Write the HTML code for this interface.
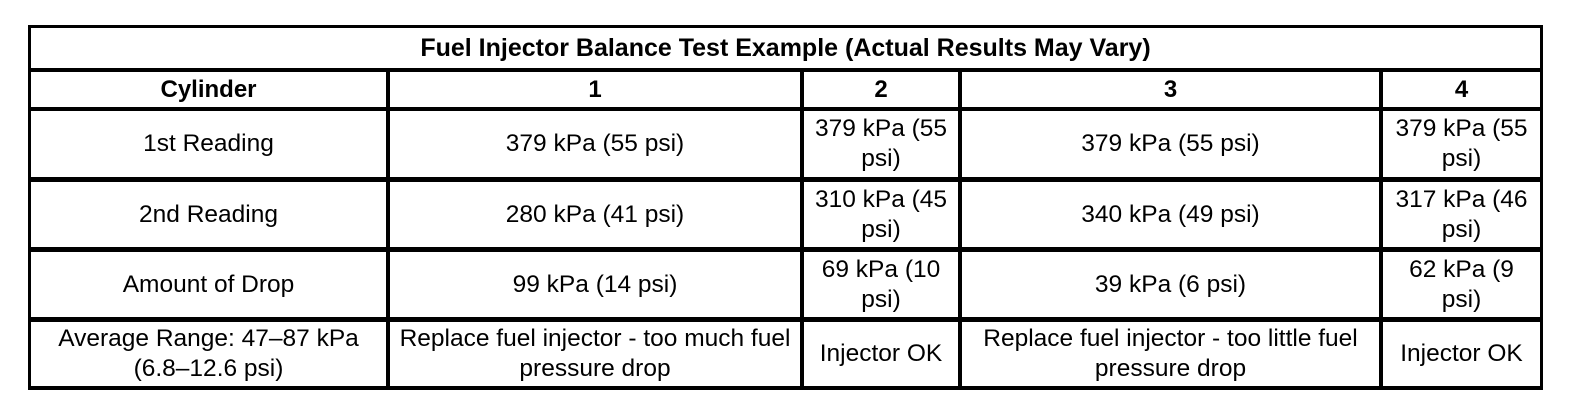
<!DOCTYPE html>
<html><head><style>
body{margin:0;width:1584px;height:410px;background:#fff;position:relative;overflow:hidden;font-family:"Liberation Sans",Arial,sans-serif;color:#000}
.l{position:absolute;background:#000}
.c{position:absolute;display:flex;align-items:center;justify-content:center;text-align:center;font-size:24.5px;line-height:30px}
.b{font-weight:bold;font-size:24px}
</style></head><body>
<div class="l" style="left:28px;top:25px;width:1515px;height:3px"></div>
<div class="l" style="left:28px;top:68px;width:1515px;height:4px"></div>
<div class="l" style="left:28px;top:107px;width:1515px;height:4px"></div>
<div class="l" style="left:28px;top:177px;width:1515px;height:5px"></div>
<div class="l" style="left:28px;top:247px;width:1515px;height:5px"></div>
<div class="l" style="left:28px;top:317px;width:1515px;height:5px"></div>
<div class="l" style="left:28px;top:386px;width:1515px;height:4px"></div>
<div class="l" style="left:28px;top:25px;width:3px;height:365px"></div>
<div class="l" style="left:1540px;top:25px;width:3px;height:365px"></div>
<div class="l" style="left:386px;top:68px;width:4px;height:322px"></div>
<div class="l" style="left:800px;top:68px;width:4px;height:322px"></div>
<div class="l" style="left:958px;top:68px;width:4px;height:322px"></div>
<div class="l" style="left:1379px;top:68px;width:4px;height:322px"></div>

<div class="c b" style="left:31px;top:28px;width:1509px;height:40px;font-size:25px">Fuel Injector Balance Test Example (Actual Results May Vary)</div>

<div class="c b" style="left:31px;top:72px;width:355px;height:35px">Cylinder</div>
<div class="c b" style="left:390px;top:72px;width:410px;height:35px">1</div>
<div class="c b" style="left:804px;top:72px;width:154px;height:35px">2</div>
<div class="c b" style="left:962px;top:72px;width:417px;height:35px">3</div>
<div class="c b" style="left:1383px;top:72px;width:157px;height:35px">4</div>

<div class="c" style="left:31px;top:111px;width:355px;height:66px">1st Reading</div>
<div class="c" style="left:390px;top:111px;width:410px;height:66px">379 kPa (55 psi)</div>
<div class="c" style="left:804px;top:111px;width:154px;height:66px">379 kPa (55<br>psi)</div>
<div class="c" style="left:962px;top:111px;width:417px;height:66px">379 kPa (55 psi)</div>
<div class="c" style="left:1383px;top:111px;width:157px;height:66px">379 kPa (55<br>psi)</div>

<div class="c" style="left:31px;top:182px;width:355px;height:65px">2nd Reading</div>
<div class="c" style="left:390px;top:182px;width:410px;height:65px">280 kPa (41 psi)</div>
<div class="c" style="left:804px;top:182px;width:154px;height:65px">310 kPa (45<br>psi)</div>
<div class="c" style="left:962px;top:182px;width:417px;height:65px">340 kPa (49 psi)</div>
<div class="c" style="left:1383px;top:182px;width:157px;height:65px">317 kPa (46<br>psi)</div>

<div class="c" style="left:31px;top:252px;width:355px;height:65px">Amount of Drop</div>
<div class="c" style="left:390px;top:252px;width:410px;height:65px">99 kPa (14 psi)</div>
<div class="c" style="left:804px;top:252px;width:154px;height:65px">69 kPa (10<br>psi)</div>
<div class="c" style="left:962px;top:252px;width:417px;height:65px">39 kPa (6 psi)</div>
<div class="c" style="left:1383px;top:252px;width:157px;height:65px">62 kPa (9<br>psi)</div>

<div class="c" style="left:31px;top:322px;width:355px;height:64px">Average Range: 47–87 kPa<br>(6.8–12.6 psi)</div>
<div class="c" style="left:390px;top:322px;width:410px;height:64px">Replace fuel injector - too much fuel<br>pressure drop</div>
<div class="c" style="left:804px;top:322px;width:154px;height:64px">Injector OK</div>
<div class="c" style="left:962px;top:322px;width:417px;height:64px">Replace fuel injector - too little fuel<br>pressure drop</div>
<div class="c" style="left:1383px;top:322px;width:157px;height:64px">Injector OK</div>
</body></html>
